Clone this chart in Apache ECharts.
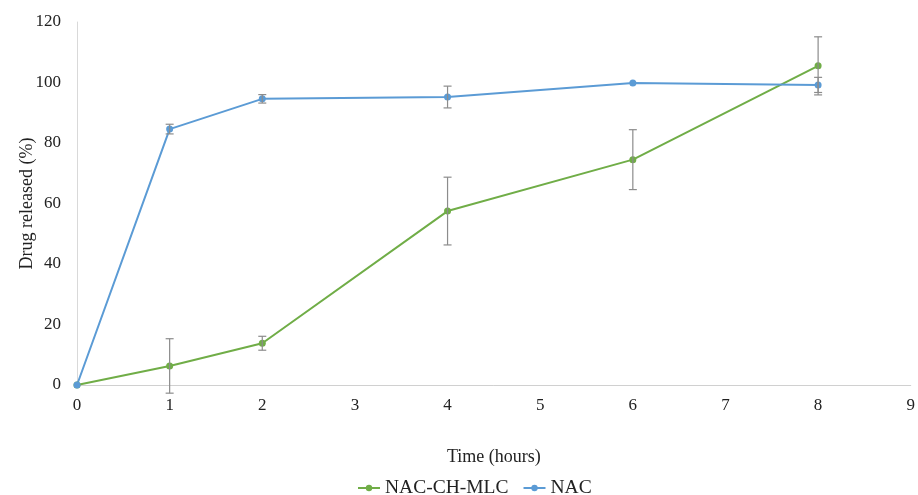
<!DOCTYPE html>
<html>
<head>
<meta charset="utf-8">
<script src="https://cdn.jsdelivr.net/npm/echarts@6/dist/echarts.min.js"></script>
<style>
  html, body { margin: 0; padding: 0; background: #fff; }
  #chart { width: 918px; height: 495px; }
</style>
</head>
<body>
<div id="chart"></div>
<script>
// time points (hours)
const hours = [0, 1, 2, 4, 6, 8]
// % drug released
const nacChMlc = [0, 6.3, 13.8, 57.5, 74.5, 105.5]
const nacChMlcErr = [0, 9, 2.3, 11.2, 9.9, 9.6]
const nac = [0, 84.6, 94.6, 95.2, 99.8, 99.2]
const nacErr = [0, 1.6, 1.4, 3.6, 0, 2.5]

const green = '#70ad47'
const blue = '#5b9bd5'
const font = 'Liberation Serif'

const pairs = (ys) => hours.map((h, i) => [h, ys[i]])
const errData = (ys, es) =>
  hours.map((h, i) => [h, ys[i] - es[i], ys[i] + es[i]]).filter((d, i) => es[i] > 0)

const renderErr = (params, api) => {
  const lo = api.coord([api.value(0), api.value(1)])
  const hi = api.coord([api.value(0), api.value(2)])
  const w = 4
  const style = { stroke: '#8c8c8c', lineWidth: 1.2 }
  return {
    type: 'group',
    children: [
      { type: 'line', shape: { x1: hi[0], y1: hi[1], x2: lo[0], y2: lo[1] }, style },
      { type: 'line', shape: { x1: hi[0] - w, y1: hi[1], x2: hi[0] + w, y2: hi[1] }, style },
      { type: 'line', shape: { x1: lo[0] - w, y1: lo[1], x2: lo[0] + w, y2: lo[1] }, style },
    ],
  }
}

const chart = echarts.init(document.getElementById('chart'))
chart.setOption({
  animation: false,
  textStyle: { fontFamily: font },
  grid: { left: 77, right: 6, top: 22, bottom: 110 },
  legend: {
    top: 473,
    left: 352,
    data: ['NAC-CH-MLC', 'NAC'],
    itemWidth: 22,
    itemHeight: 8,
    itemGap: 14,
    textStyle: { fontFamily: font, fontSize: 19.5, color: '#222' },
  },
  xAxis: {
    type: 'value',
    min: 0,
    max: 9,
    interval: 1,
    name: 'Time (hours)',
    nameLocation: 'middle',
    nameGap: 63,
    nameMoveOverlap: false,
    nameTextStyle: { fontFamily: font, fontSize: 18, color: '#222' },
    axisLine: { lineStyle: { color: '#d0d0d0', width: 1 } },
    axisTick: { show: false },
    splitLine: { show: false },
    axisLabel: { fontFamily: font, fontSize: 17, color: '#222', margin: 12 },
  },
  yAxis: {
    type: 'value',
    min: 0,
    max: 120,
    interval: 20,
    name: 'Drug released (%)',
    nameLocation: 'middle',
    nameGap: 41,
    nameMoveOverlap: false,
    nameTextStyle: { fontFamily: font, fontSize: 18, color: '#222' },
    axisLine: { show: true, lineStyle: { color: '#d9d9d9', width: 1 } },
    axisTick: { show: false },
    splitLine: { show: false },
    axisLabel: { fontFamily: font, fontSize: 17, color: '#222', margin: 16 },
  },
  series: [
    {
      name: 'NAC-CH-MLC',
      type: 'line',
      data: pairs(nacChMlc),
      symbol: 'circle',
      symbolSize: 7,
      color: green,
      lineStyle: { width: 2, color: green },
      z: 3,
    },
    {
      name: 'NAC',
      type: 'line',
      data: pairs(nac),
      symbol: 'circle',
      symbolSize: 7,
      color: blue,
      lineStyle: { width: 2, color: blue },
      z: 3,
    },
    {
      name: 'errGreen',
      type: 'custom',
      renderItem: renderErr,
      data: errData(nacChMlc, nacChMlcErr),
      encode: { x: 0, y: [1, 2] },
      z: 4,
      silent: true,
    },
    {
      name: 'errBlue',
      type: 'custom',
      renderItem: renderErr,
      data: errData(nac, nacErr),
      encode: { x: 0, y: [1, 2] },
      z: 4,
      silent: true,
    },
  ],
})
</script>
</body>
</html>
